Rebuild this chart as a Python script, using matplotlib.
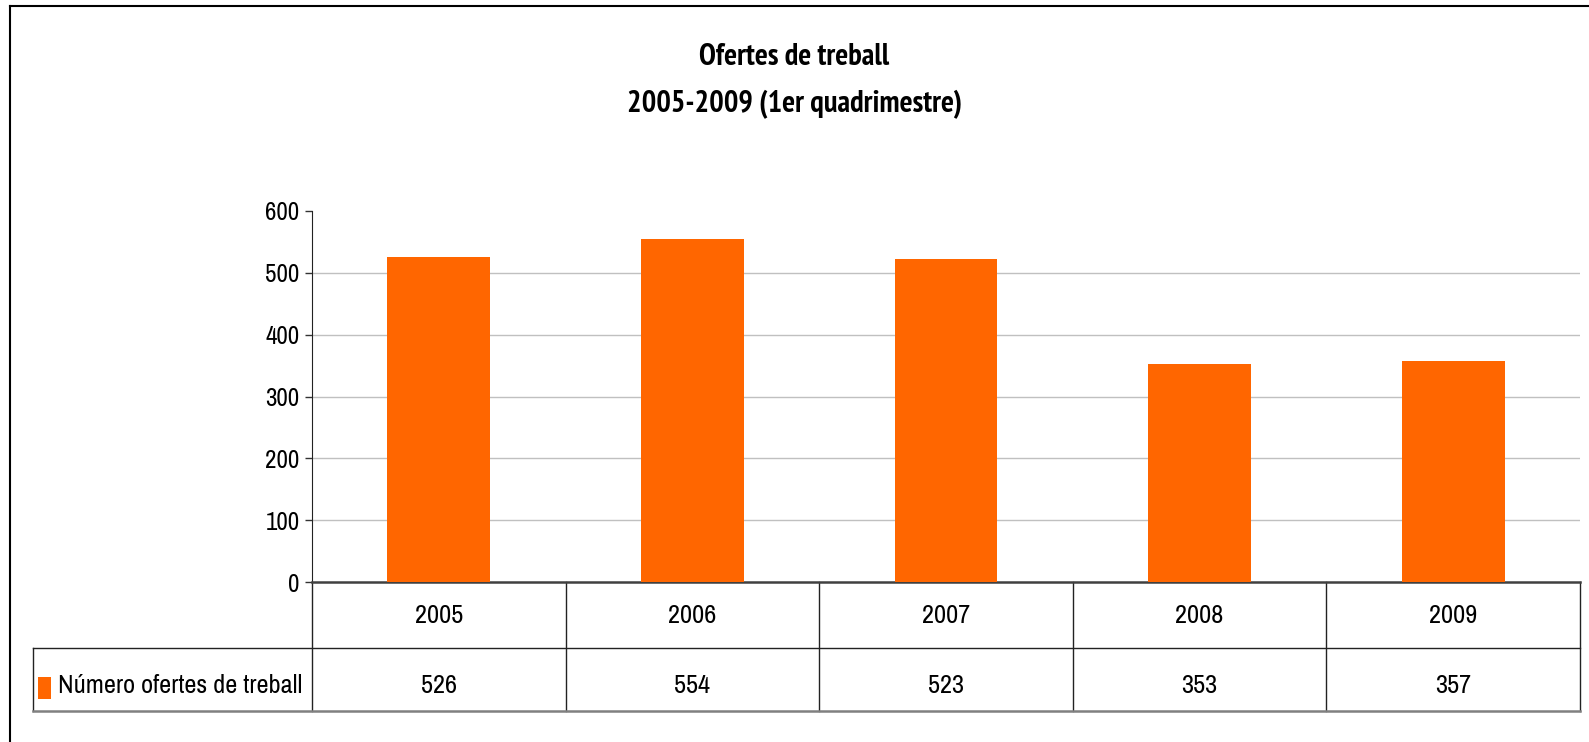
import matplotlib.pyplot as plt
from matplotlib import font_manager
from matplotlib.lines import Line2D
from matplotlib.patches import Rectangle

years = ['2005', '2006', '2007', '2008', '2009']
ofertes = [526, 554, 523, 353, 357]
serie = 'Número ofertes de treball'
titol1 = 'Ofertes de treball'
titol2 = '2005-2009 (1er quadrimestre)'
yticks = [0, 100, 200, 300, 400, 500, 600]

taronja = '#FF6600'

# Arial Narrow look-alike: take the first one that is installed
fl = font_manager.fontManager.ttflist
installed = {f.name for f in fl}
bolds = {f.name for f in fl if f.weight in (600, 700, 'bold', 'semibold')}
candidates = ['Liberation Sans Narrow', 'Arial Narrow', 'Archivo Narrow', 'PT Sans Narrow',
              'Roboto Condensed', 'IBM Plex Sans Condensed', 'Liberation Sans']
narrow = next(c for c in candidates if c in installed)
narrow_b = next(c for c in candidates if c in bolds)
plt.rcParams['font.family'] = [narrow, 'DejaVu Sans']

fig = plt.figure(figsize=(15.89, 7.42), dpi=100)
ax = fig.add_axes([312/1589, 1-582/742, 1268/1589, 371/742])

x = list(range(len(years)))
ax.bar(x, ofertes, width=0.405, color=taronja, zorder=3)
ax.set_xlim(-0.5, len(years)-0.5)
ax.set_ylim(0, 600)
ax.set_yticks(yticks)
ax.set_yticklabels([str(v) for v in yticks], fontsize=18)
ax.set_xticks([])
for v in yticks[1:-1]:
    ax.axhline(v, color='#c0c0c0', lw=1, zorder=1)
ax.tick_params(axis='y', direction='out', length=5, width=1, color='#333333', pad=4)
for s in ['top', 'right']:
    ax.spines[s].set_visible(False)
ax.spines['left'].set_color('#222222')
ax.spines['bottom'].set_color('#404040')
ax.spines['bottom'].set_linewidth(1.8)

# data table under the axis
y1 = (582-648)/371
y2 = (582-711)/371
xl = (32.5-312)/1268
n = len(years)
kw = dict(transform=ax.transAxes, clip_on=False)
for k in range(n+1):
    ax.plot([k/n, k/n], [0, y2], color='#222222', lw=1, **kw)
ax.plot([xl, xl], [y1, y2], color='#222222', lw=1, **kw)
ax.plot([xl, 1], [y1, y1], color='#222222', lw=1, **kw)
ax.plot([xl, 1], [y2, y2], color='#808080', lw=1.8, **kw)
yb_head = (582-623)/371
yb_val = (582-693)/371
for i, (yr, v) in enumerate(zip(years, ofertes)):
    ax.text((i+0.5)/n, yb_head, yr, ha='center', va='baseline', fontsize=19, **kw)
    ax.text((i+0.5)/n, yb_val, str(v), ha='center', va='baseline', fontsize=19, **kw)
ax.add_patch(Rectangle(((37.5-312)/1268, (582-699)/371), 14/1268, 22/371,
                       facecolor=taronja, edgecolor='none', **kw))
ax.text((58-312)/1268, yb_val, serie, ha='left', va='baseline', fontsize=19, **kw)

tkw = dict(ha='center', va='baseline', fontsize=22, fontweight='bold',
           family=[narrow_b, 'DejaVu Sans'])
fig.text(0.5, 1-65/742, titol1, **tkw)
fig.text(0.5, 1-112/742, titol2, **tkw)

# outer chart frame (only top and left visible)
fig.add_artist(Line2D([9.5/1589, 1], [1-6/742, 1-6/742], color='black', lw=1.5))
fig.add_artist(Line2D([9.5/1589, 9.5/1589], [0, 1-6/742], color='black', lw=1.5))

fig.savefig('out.png', dpi=100, facecolor='white')
